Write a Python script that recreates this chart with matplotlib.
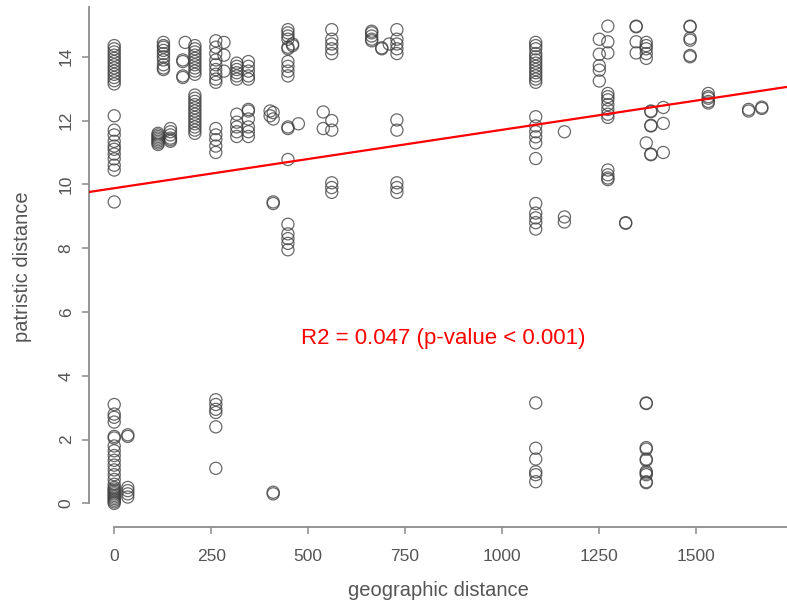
import matplotlib
matplotlib.use("Agg")
import matplotlib.pyplot as plt

plt.rcParams["font.family"] = ["Liberation Sans", "DejaVu Sans"]

# ─── Data (geographic distance per site column, patristic distances) ─────────
geo_x = [0, 35, 113, 127, 145, 177, 183, 208, 262, 283, 316, 346, 402, 410,
         448, 460, 475, 539, 561, 664, 690, 709, 729, 1087, 1161, 1251, 1273,
         1319, 1346, 1372, 1384, 1416, 1485, 1532, 1636, 1670]

patristic_y = [
    [14.35, 14.25, 14.15, 14.05, 13.95, 13.85, 13.75, 13.65, 13.55, 13.45, 13.35,
     13.25, 13.15, 12.15, 11.7, 11.55, 11.35, 11.2, 11.1, 10.95, 10.8, 10.6, 10.45,
     9.45, 3.1, 2.8, 2.7, 2.55, 2.1, 2.05, 1.8, 1.65, 1.5, 1.35, 1.2, 1.05, 0.9,
     0.75, 0.6, 0.5, 0.45, 0.4, 0.35, 0.3, 0.25, 0.2, 0.15, 0.1, 0.05, 0.0],
    [2.15, 2.1, 0.5, 0.4, 0.3, 0.2],
    [11.6, 11.55, 11.5, 11.45, 11.4, 11.35, 11.3, 11.25],
    [14.45, 14.35, 14.3, 14.2, 14.1, 14.0, 13.9, 13.75, 13.65, 13.6],
    [11.75, 11.65, 11.55, 11.45, 11.4, 11.35],
    [13.9, 13.85, 13.4, 13.35],
    [14.45],
    [14.35, 14.25, 14.15, 14.05, 13.95, 13.85, 13.75, 13.65, 13.55, 13.45,
     12.8, 12.7, 12.6, 12.5, 12.4, 12.3, 12.2, 12.1, 12.0, 11.9, 11.8, 11.7, 11.6],
    [14.5, 14.3, 14.1, 13.9, 13.75, 13.6, 13.45, 13.3, 13.2,
     11.75, 11.55, 11.4, 11.2, 11.0, 3.25, 3.1, 2.95, 2.85, 2.4, 1.1],
    [14.45, 14.05, 13.55],
    [13.8, 13.7, 13.6, 13.5, 13.4, 13.3, 12.2, 11.95, 11.8, 11.65, 11.5],
    [13.85, 13.7, 13.55, 13.4, 13.3, 12.35, 12.3, 12.05, 11.8, 11.65, 11.5],
    [12.3, 12.15],
    [12.25, 12.05, 9.45, 9.4, 0.35, 0.3],
    [14.85, 14.75, 14.65, 14.55, 14.3, 14.25, 13.85, 13.7, 13.55, 13.4,
     11.8, 11.75, 10.78, 8.75, 8.45, 8.3, 8.15, 7.95],
    [14.4, 14.35],
    [11.9],
    [12.27, 11.75],
    [14.85, 14.55, 14.4, 14.25, 14.1, 12.0, 11.7, 10.05, 9.9, 9.75],
    [14.8, 14.75, 14.65, 14.55, 14.5],
    [14.28, 14.25],
    [14.4],
    [14.85, 14.55, 14.4, 14.25, 14.1, 12.02, 11.7, 10.05, 9.9, 9.75],
    [14.45, 14.35, 14.25, 14.1, 14.0, 13.9, 13.8, 13.7, 13.6, 13.5, 13.4, 13.3,
     13.2, 12.12, 11.83, 11.65, 11.49, 11.3, 10.81, 9.4, 9.1, 8.95, 8.8, 8.6,
     3.15, 1.73, 1.39, 0.99, 0.9, 0.68],
    [11.65, 8.98, 8.82],
    [14.55, 14.08, 13.72, 13.58, 13.24],
    [14.96, 14.47, 14.12, 12.85, 12.75, 12.65, 12.5, 12.35, 12.2, 12.1,
     10.45, 10.3, 10.2, 10.15],
    [8.8, 8.78],
    [14.96, 14.94, 14.47, 14.12],
    [14.45, 14.35, 14.25, 14.1, 13.95, 11.3, 3.15, 3.13, 1.75, 1.7, 1.39, 1.35,
     1.0, 0.95, 0.9, 0.68, 0.65],
    [12.3, 12.28, 11.85, 11.83, 10.95, 10.93],
    [12.41, 11.91, 11.0],
    [14.96, 14.94, 14.58, 14.52, 14.04, 14.0],
    [12.85, 12.75, 12.7, 12.6, 12.55],
    [12.35, 12.3],
    [12.42, 12.38],
]

fit_intercept = 9.88
fit_slope = 0.00183
stat_label = "R2 = 0.047 (p-value < 0.001)"

# ─── Figure ──────────────────────────────────────────────────────────────────
AXIS_GREY = "#8c8c8c"
TEXT_GREY = "#555555"

fig = plt.figure(figsize=(7.87, 6.03), dpi=100)
ax = fig.add_axes([0.1131, 0.126, 0.8869, 0.8624])

xs, ys = [], []
for gx, col in zip(geo_x, patristic_y):
    xs += [gx] * len(col)
    ys += col

ax.scatter(xs, ys, s=76, facecolors="none", edgecolors=(0.25, 0.25, 0.25, 0.78),
           linewidths=0.9, zorder=2)

ax.axline((0, fit_intercept), slope=fit_slope, color="red", linewidth=1.6, zorder=3)
ax.text(848, 5.18, stat_label, color="red", fontsize=16, ha="center", va="center")

ax.set_xlim(-65, 1735)
ax.set_ylim(-0.74, 15.56)

ax.set_xticks([0, 250, 500, 750, 1000, 1250, 1500])
ax.set_yticks([0, 2, 4, 6, 8, 10, 12, 14])

for side in ("top", "right"):
    ax.spines[side].set_visible(False)
for side in ("left", "bottom"):
    ax.spines[side].set_color(AXIS_GREY)
    ax.spines[side].set_linewidth(1.3)
ax.spines["left"].set_bounds(0, 15.56)
ax.spines["bottom"].set_bounds(0, 1735)

ax.tick_params(axis="both", colors=AXIS_GREY, length=5, width=1.1,
               labelcolor=TEXT_GREY, labelsize=12.5)
ax.tick_params(axis="x", pad=11)
ax.tick_params(axis="y", pad=6)
for lbl in ax.get_yticklabels():
    lbl.set_rotation(90)
    lbl.set_va("center")

ax.set_xlabel("geographic distance", fontsize=14.5, color=TEXT_GREY, labelpad=12)
ax.set_ylabel("patristic distance", fontsize=14.5, color=TEXT_GREY, labelpad=19)

fig.savefig("out.png", dpi=100)
